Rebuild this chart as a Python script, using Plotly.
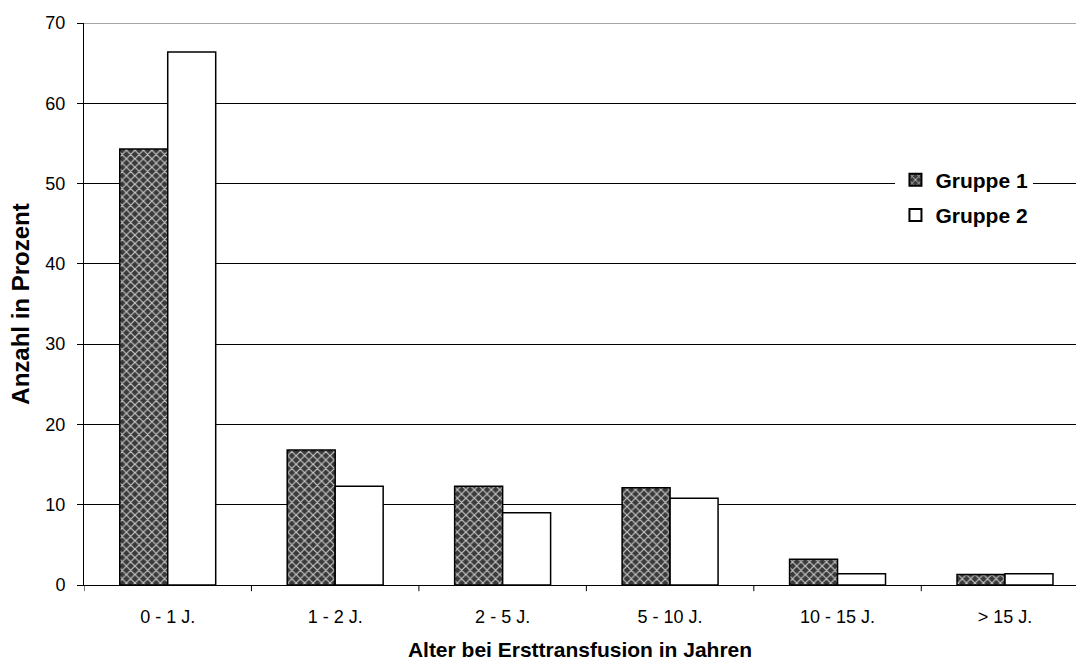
import plotly.graph_objects as go

categories = ["0 - 1 J.", "1 - 2 J.", "2 - 5 J.", "5 - 10 J.", "10 - 15 J.", "> 15 J."]
gruppe1 = [54.3, 16.8, 12.3, 12.1, 3.2, 1.3]
gruppe2 = [66.4, 12.3, 9.0, 10.8, 1.4, 1.4]
y_ticks = [0, 10, 20, 30, 40, 50, 60, 70]

font_family = "Liberation Sans, Arial, sans-serif"

fig = go.Figure()
fig.add_trace(go.Bar(
    name="<b>Gruppe 1</b>", x=categories, y=gruppe1, legendgroup="g1",
    marker=dict(
        color="#3a3a3a",
        line=dict(color="black", width=1.5),
        pattern=dict(shape="x", bgcolor="#3a3a3a", fgcolor="#c8c8c8",
                     size=6, solidity=0.35, fillmode="replace"),
    ),
))
fig.add_trace(go.Bar(
    name="<b>Gruppe 2</b>", x=categories, y=gruppe2, legendgroup="g2",
    marker=dict(color="white", line=dict(color="black", width=1.5)),
))

fig.update_layout(
    width=1076, height=661,
    margin=dict(l=84, r=0, t=23, b=76),
    paper_bgcolor="white", plot_bgcolor="white",
    barmode="group", bargap=0.427, bargroupgap=0,
    font=dict(family=font_family, size=18, color="black"),
    showlegend=True,
    legend=dict(
        x=0.818, y=0.757, xanchor="left", yanchor="top",
        bgcolor="white", borderwidth=0,
        font=dict(size=21, color="black", family=font_family),
        itemsizing="constant", tracegroupgap=5, traceorder="grouped",
    ),
    xaxis=dict(
        range=[-0.5, 5.424],
        showline=True, linecolor="black", linewidth=1,
        ticks="", showgrid=False,
        ticklabelstandoff=15,
        title=dict(text="<b>Alter bei Ersttransfusion in Jahren</b>",
                   font=dict(size=21), standoff=16),
        tickfont=dict(size=18),
    ),
    yaxis=dict(
        range=[0, 70], tickvals=y_ticks,
        showline=True, linecolor="black", linewidth=1,
        ticks="outside", ticklen=6, tickcolor="black",
        ticklabelstandoff=8,
        showgrid=True, gridcolor="black", gridwidth=1,
        zeroline=False,
        title=dict(text="<b>Anzahl in Prozent</b>", font=dict(size=24), standoff=8),
        tickfont=dict(size=18),
    ),
)

# top border of the plot area
fig.add_shape(type="line", xref="paper", yref="y",
              x0=0, x1=1, y0=70, y1=70,
              line=dict(color="#888888", width=1.5))

# tick marks between categories on the x axis
for i in range(6):
    fig.add_shape(type="line", xref="x", yref="paper",
                  x0=i - 0.5, x1=i - 0.5, y0=0, y1=-0.011,
                  line=dict(color="black", width=1))

fig.write_html("out.html")
